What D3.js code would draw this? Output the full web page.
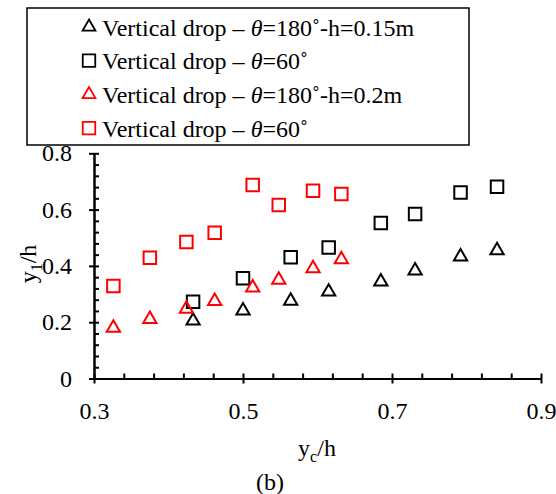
<!DOCTYPE html>
<html>
<head>
<meta charset="utf-8">
<script src="https://cdn.jsdelivr.net/npm/d3@7"></script>
<style>
  html, body { margin: 0; padding: 0; background: #fff; }
  svg text { font-family: "Liberation Serif", "Tinos", "Times New Roman", "DejaVu Serif", serif; }
</style>
</head>
<body>
<svg id="chart" width="556" height="494"></svg>
<script>
// Relative depth y1/h against critical depth yc/h for vertical drops
const xBlack = [0.433, 0.500, 0.564, 0.615, 0.685, 0.731, 0.792, 0.841];
const yBlackTri = [0.205, 0.241, 0.276, 0.308, 0.344, 0.383, 0.433, 0.455];
const yBlackSq = [0.273, 0.356, 0.431, 0.465, 0.552, 0.584, 0.661, 0.681];

const xRed = [0.326, 0.375, 0.424, 0.462, 0.513, 0.548, 0.594, 0.632];
const yRedTri = [0.180, 0.211, 0.247, 0.275, 0.323, 0.350, 0.391, 0.423];
const yRedSq = [0.329, 0.429, 0.485, 0.518, 0.687, 0.616, 0.667, 0.655];

const legendLabels = [
  ["Vertical drop – ", "θ", "=180˚-h=0.15m"],
  ["Vertical drop – ", "θ", "=60˚"],
  ["Vertical drop – ", "θ", "=180˚-h=0.2m"],
  ["Vertical drop – ", "θ", "=60˚"]
];
const xTicks = [0.3, 0.5, 0.7, 0.9];
const yTicks = [0, 0.2, 0.4, 0.6, 0.8];

const series = [
  { xs: xBlack, ys: yBlackTri, shape: "tri", color: "#000" },
  { xs: xBlack, ys: yBlackSq, shape: "sq", color: "#000" },
  { xs: xRed, ys: yRedTri, shape: "tri", color: "#ff0000" },
  { xs: xRed, ys: yRedSq, shape: "sq", color: "#ff0000" }
];

const FONT = "'Liberation Serif', Tinos, 'Times New Roman', 'DejaVu Serif', serif";
const FS = 24;

const svg = d3.select("#chart");
const x = d3.scaleLinear().domain([0.3, 0.9]).range([94, 541]);
const y = d3.scaleLinear().domain([0, 0.8]).range([378.5, 153.3]);

const minorX = d3.range(0, 16).map(i => 0.3 + i * 0.04).filter(v => v <= 0.9001);
const minorY = d3.range(0, 21).map(i => i * 0.04).filter(v => v <= 0.8001);

function styleAxis(g) {
  g.attr("font-family", FONT).attr("font-size", FS);
  g.select(".domain").attr("stroke", "#000").attr("stroke-width", 2);
  g.selectAll(".tick line").attr("stroke", "#000").attr("stroke-width", 2);
  g.selectAll(".tick text").attr("fill", "#000");
}

// x axis: labelled major ticks below, all ticks pointing up into the plot
svg.append("g")
  .attr("transform", `translate(0,${y(0)})`)
  .call(d3.axisBottom(x).tickValues(xTicks).tickFormat(d3.format(".1f"))
    .tickSizeInner(5).tickSizeOuter(0).tickPadding(18))
  .call(styleAxis);
svg.append("g")
  .attr("transform", `translate(0,${y(0)})`)
  .call(d3.axisTop(x).tickValues(minorX).tickFormat("").tickSizeInner(5).tickSizeOuter(0))
  .call(styleAxis);

// y axis: labelled major ticks to the left, all ticks pointing right
svg.append("g")
  .attr("transform", `translate(${x(0.3)},0)`)
  .call(d3.axisLeft(y).tickValues(yTicks).tickFormat(d => d === 0 ? "0" : d3.format(".1f")(d))
    .tickSizeInner(5).tickSizeOuter(0).tickPadding(17))
  .call(styleAxis);
svg.append("g")
  .attr("transform", `translate(${x(0.3)},0)`)
  .call(d3.axisRight(y).tickValues(minorY).tickFormat("").tickSizeInner(5).tickSizeOuter(0))
  .call(styleAxis);

// markers
const sq = d3.symbol().type(d3.symbolSquare).size(12.5 * 12.5);
const tri = d3.symbol().type(d3.symbolTriangle).size(76);

series.forEach(s => {
  svg.append("g").selectAll("path")
    .data(s.xs.map((v, i) => [v, s.ys[i]]))
    .join("path")
    .attr("d", s.shape === "sq" ? sq() : tri())
    .attr("transform", d => `translate(${x(d[0])},${y(d[1])})`)
    .attr("fill", "none")
    .attr("stroke", s.color)
    .attr("stroke-width", 2);
});

// axis titles
const xt = svg.append("text")
  .attr("x", 317).attr("y", 456)
  .attr("text-anchor", "middle")
  .attr("font-family", FONT).attr("font-size", FS);
xt.append("tspan").text("y");
xt.append("tspan").attr("dy", 6).attr("font-size", 16).text("c");
xt.append("tspan").attr("dy", -6).text("/h");

const yt = svg.append("text")
  .attr("transform", "translate(36,264) rotate(-90)")
  .attr("text-anchor", "middle")
  .attr("font-family", FONT).attr("font-size", FS);
yt.append("tspan").text("y");
yt.append("tspan").attr("dy", 6).attr("font-size", 16).text("1");
yt.append("tspan").attr("dy", -6).text("/h");

svg.append("text")
  .attr("x", 270).attr("y", 490)
  .attr("text-anchor", "middle")
  .attr("font-family", FONT).attr("font-size", FS)
  .text("(b)");

// legend
svg.append("rect")
  .attr("x", 27).attr("y", 8).attr("width", 442).attr("height", 137)
  .attr("fill", "#fff").attr("stroke", "#000").attr("stroke-width", 1.5);

const legTri = d3.symbol().type(d3.symbolTriangle).size(72);
const legSq = d3.symbol().type(d3.symbolSquare).size(12.5 * 12.5);
series.forEach((s, i) => {
  const cy = 27 + i * 33.7;
  svg.append("path")
    .attr("d", s.shape === "sq" ? legSq() : legTri())
    .attr("transform", `translate(89,${cy})`)
    .attr("fill", "none")
    .attr("stroke", s.color)
    .attr("stroke-width", 1.8);
  const t = svg.append("text")
    .attr("x", 102).attr("y", cy + 8.5)
    .attr("font-family", FONT).attr("font-size", FS);
  t.append("tspan").text(legendLabels[i][0]);
  t.append("tspan").attr("font-style", "italic").text(legendLabels[i][1]);
  t.append("tspan").text(legendLabels[i][2]);
});
</script>
</body>
</html>
